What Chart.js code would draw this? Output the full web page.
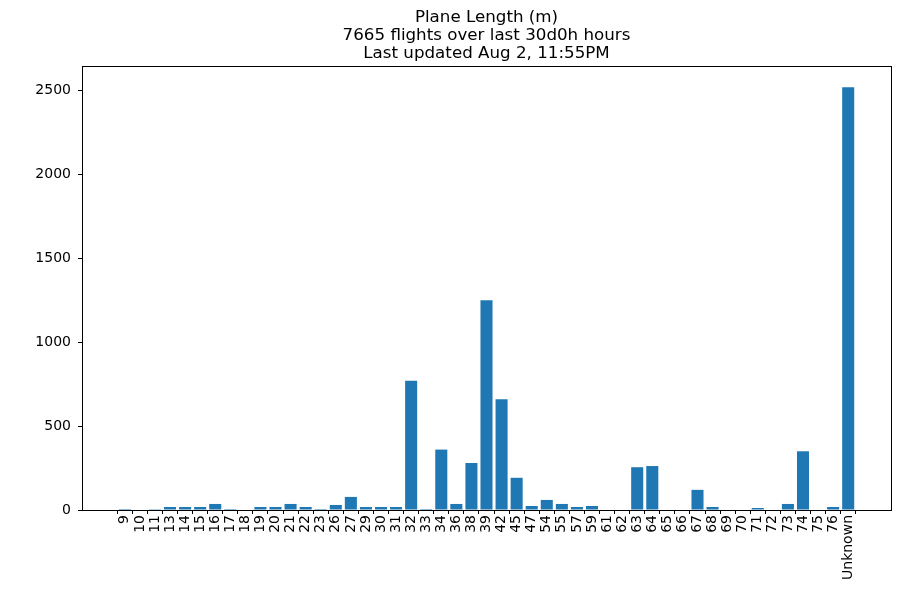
<!DOCTYPE html>
<html>
<head>
<meta charset="utf-8">
<script src="https://cdn.jsdelivr.net/npm/chart.js@4/dist/chart.umd.min.js"></script>
<style>
html,body{margin:0;padding:0;background:#fff;}
#wrap{width:900px;height:600px;position:relative;}
</style>
</head>
<body>
<div id="wrap"><canvas id="c" width="900" height="600"></canvas></div>
<script>
const categories = ["9","10","11","13","14","15","16","17","18","19","20","21","22","23","26","27","29","30","31","32","33","34","36","38","39","42","45","47","54","55","57","59","61","62","63","64","65","66","67","68","69","70","71","72","73","74","75","76","Unknown"];
const counts = [6,0,5,18,18,18,36,6,0,18,18,36,18,6,30,78,18,18,18,770,6,360,36,280,1250,660,192,24,60,36,18,24,0,0,255,262,0,0,120,18,0,0,12,0,36,350,0,18,2520];
const titleLines = ["Plane Length (m)", "7665 flights over last 30d0h hours", "Last updated Aug 2, 11:55PM"];
const yTicks = [0,500,1000,1500,2000,2500];
const yMax = 2646;
const xMin = -2.84, xMax = categories.length - 1 + 2.84;

const FONT = "'DejaVu Sans', sans-serif";

const framePlugin = {
  id: 'frame',
  afterDatasetsDraw(chart) {
    const {ctx, chartArea: a} = chart;
    ctx.save();
    ctx.strokeStyle = '#000';
    ctx.lineWidth = 1;
    ctx.strokeRect(Math.round(a.left)+0.5, Math.round(a.top)+0.5, Math.round(a.right-a.left), Math.round(a.bottom-a.top));
    ctx.restore();
  },
  afterDraw(chart) {
    const {ctx, chartArea: a} = chart;
    ctx.save();
    ctx.fillStyle = '#000';
    ctx.font = '16.7px ' + FONT;
    ctx.textAlign = 'center';
    ctx.textBaseline = 'middle';
    const cx = (a.left + a.right) / 2;
    titleLines.forEach((t, i) => ctx.fillText(t, cx, 18 + i * 18));
    ctx.restore();
  }
};

new Chart(document.getElementById('c'), {
  type: 'bar',
  data: {
    datasets: [{
      data: counts.map((v, i) => ({x: i, y: v})),
      backgroundColor: '#1f77b4',
      borderColor: '#1f77b4',
      borderWidth: 0,
      barPercentage: 0.8,
      categoryPercentage: 1.0
    }]
  },
  options: {
    responsive: false,
    animation: false,
    devicePixelRatio: 1,
    layout: {padding: {top: 66, right: 9, left: 0, bottom: 0}},
    plugins: {legend: {display: false}, tooltip: {enabled: false}, title: {display: false}},
    scales: {
      x: {
        type: 'linear',
        min: xMin,
        max: xMax,
        offset: false,
        afterBuildTicks: axis => { axis.ticks = categories.map((_, i) => ({value: i})); },
        afterFit: axis => { axis.height = 90; },
        ticks: {
          autoSkip: false,
          minRotation: 90,
          maxRotation: 90,
          color: '#000',
          padding: 1,
          font: {family: FONT, size: 14},
          callback: v => categories[v]
        },
        grid: {display: true, drawOnChartArea: false, drawTicks: true, tickLength: 4, color: '#000'},
        border: {display: true, color: '#000'}
      },
      y: {
        type: 'linear',
        min: 0,
        max: yMax,
        afterBuildTicks: axis => { axis.ticks = yTicks.map(v => ({value: v})); },
        afterFit: axis => { axis.width = 82; },
        ticks: {color: '#000', padding: 7, font: {family: FONT, size: 14}, callback: v => String(v)},
        grid: {display: true, drawOnChartArea: false, drawTicks: true, tickLength: 4, color: '#000'},
        border: {display: true, color: '#000'}
      }
    }
  },
  plugins: [framePlugin]
});
</script>
</body>
</html>
